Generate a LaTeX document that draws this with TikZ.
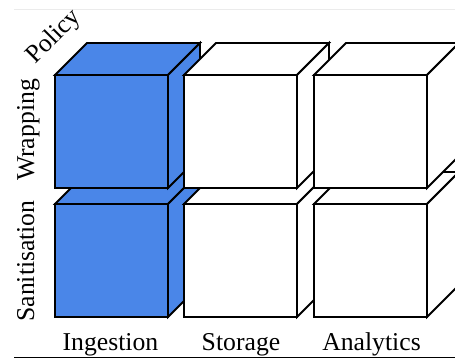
\documentclass[tikz,border=0pt]{standalone}
\usepackage{fontspec}
\setmainfont{Liberation Serif}
\definecolor{cubeblue}{RGB}{74,134,232}
\tikzset{
  face/.style={draw=black, line width=1.8pt, line join=miter},
  lbl/.style={font=\fontsize{25.7}{30}\selectfont, inner sep=0pt},
}
% one cube: #1,#2 = top-left corner of the front face, #3 = fill colour
\newcommand{\drawcube}[3]{%
  \path[face, fill=#3] (#1,#2) -- ++(32,-32) -- ++(113,0) -- ++(-32,32) -- cycle;
  \path[face, fill=#3] ({#1+113},#2) -- ++(32,-32) -- ++(0,113) -- ++(-32,32) -- cycle;
  \path[face, fill=#3] (#1,#2) rectangle ++(113,113);
}
\begin{document}
\begin{tikzpicture}[x=1pt, y=-1pt]
  \useasboundingbox (0,0) rectangle (455,359);
  \clip (0,0) rectangle (455,359);
  % faint top rule
  \draw[black!8, line width=0.8pt] (14,9.5) -- (455,9.5);
  % lower row (Sanitisation)
  \drawcube{55}{204}{cubeblue}
  \drawcube{184}{204}{white}
  \drawcube{314}{204}{white}
  % upper row (Wrapping)
  \drawcube{55}{75}{cubeblue}
  \drawcube{184}{75}{white}
  \drawcube{314}{75}{white}
  % labels
  \node[lbl, anchor=base] (ing) at (110.5,350) {Ingestion};
  \node[lbl, anchor=base] (sto) at (241,350) {Storage};
  \node[lbl, anchor=base] (ana) at (371.5,350) {Analytics};
  \node[lbl, rotate=90, anchor=base] (wrap) at (34,130) {Wrapping};
  \node[lbl, rotate=90, anchor=base] (san) at (34,261) {Sanitisation};
  \node[lbl, rotate=45, anchor=center] (pol) at (54,37) {Policy};
  % bottom rule
  \draw[black, line width=1.8pt] (14,357.5) -- (455,357.5);
\end{tikzpicture}
\end{document}
